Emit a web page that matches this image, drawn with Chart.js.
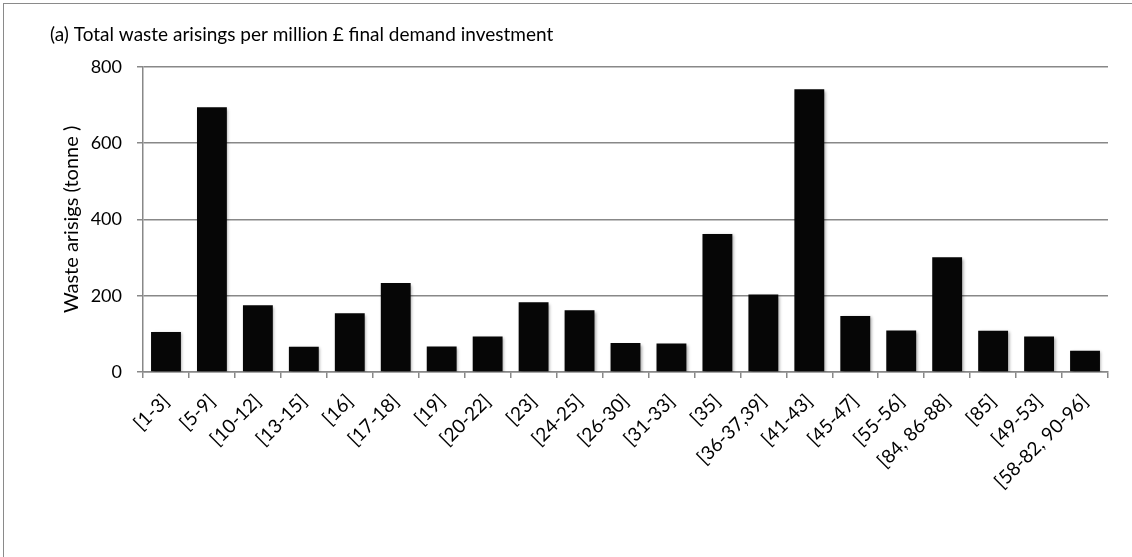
<!DOCTYPE html>
<html>
<head>
<meta charset="utf-8">
<script src="https://cdn.jsdelivr.net/npm/chart.js@4.4.1/dist/chart.umd.min.js"></script>
<style>
    html, body { margin: 0; padding: 0; background: #fff; }
    #wrap { position: relative; width: 1132px; height: 557px; overflow: hidden; }
    #frame { position: absolute; left: 3px; top: 3px; width: 1200px; height: 600px; border: 1px solid #8a8a8a; box-sizing: border-box; }
    #chart { position: absolute; left: 0; top: 0; }
</style>
</head>
<body>
<div id="wrap">
    <div id="frame"></div>
    <canvas id="chart" width="1132" height="557"></canvas>
</div>
<script>
// Sector groups (SIC codes)
const categories = ['[1-3]', '[5-9]', '[10-12]', '[13-15]', '[16]', '[17-18]', '[19]', '[20-22]', '[23]', '[24-25]',
    '[26-30]', '[31-33]', '[35]', '[36-37,39]', '[41-43]', '[45-47]', '[55-56]', '[84, 86-88]', '[85]', '[49-53]', '[58-82, 90-96]'];

// Waste arisings (tonne) per million £ final demand investment
const wasteValues = [105, 694, 175, 66, 154, 233, 67, 93, 183, 162,
    76, 75, 362, 203, 741, 147, 109, 301, 108, 93, 56];

const yTicks = [0, 200, 400, 600, 800];

const FONT = 'Lato, "Open Sans", sans-serif';
const GRID = '#888888';

// Soft drop shadow like the original bars
const barShadow = {
    id: 'barShadow',
    beforeDatasetsDraw(chart) {
        const ctx = chart.ctx;
        ctx.save();
        ctx.shadowColor = 'rgba(0,0,0,0.35)';
        ctx.shadowBlur = 3;
        ctx.shadowOffsetX = 1.5;
        ctx.shadowOffsetY = 1.5;
    },
    afterDatasetsDraw(chart) {
        chart.ctx.restore();
    }
};

const initChart = () => {
    const ctx = document.getElementById('chart').getContext('2d');

    new Chart(ctx, {
        type: 'bar',
        data: {
            labels: categories,
            datasets: [{
                data: wasteValues,
                backgroundColor: '#060606',
                borderWidth: 0,
                categoryPercentage: 1.0,
                barPercentage: 0.65
            }]
        },
        options: {
            responsive: false,
            animation: false,
            layout: { padding: { left: 50, top: 23, right: 24, bottom: 0 } },
            plugins: {
                legend: { display: false },
                tooltip: { enabled: false },
                title: {
                    display: true,
                    text: '(a) Total waste arisings per million £ final demand investment',
                    align: 'start',
                    color: '#000',
                    font: { family: FONT, size: 19, weight: 'normal' },
                    padding: { top: 0, bottom: 21 }
                }
            },
            scales: {
                x: {
                    offset: true,
                    afterFit: (scale) => { scale.height = 185; },
                    grid: {
                        offset: true,
                        drawOnChartArea: false,
                        drawTicks: true,
                        tickLength: 6,
                        color: GRID,
                        lineWidth: 1.5
                    },
                    border: { color: GRID, width: 1.5 },
                    ticks: {
                        color: '#000',
                        font: { family: FONT, size: 19 },
                        maxRotation: 45,
                        minRotation: 45,
                        autoSkip: false,
                        padding: 12
                    }
                },
                y: {
                    min: 0,
                    max: 800,
                    afterFit: (scale) => { scale.width = 93; },
                    afterBuildTicks: (scale) => { scale.ticks = yTicks.map(v => ({ value: v })); },
                    grid: {
                        color: GRID,
                        lineWidth: 1.5,
                        tickLength: 6
                    },
                    border: { color: GRID, width: 1.5 },
                    ticks: {
                        color: '#000',
                        font: { family: FONT, size: 18 },
                        padding: 15
                    },
                    title: {
                        display: true,
                        text: 'Waste arisigs (tonne )',
                        color: '#000',
                        font: { family: FONT, size: 20 },
                        padding: { top: 10, bottom: 0 }
                    }
                }
            }
        },
        plugins: [barShadow]
    });
};

document.addEventListener('DOMContentLoaded', initChart);
</script>
</body>
</html>
